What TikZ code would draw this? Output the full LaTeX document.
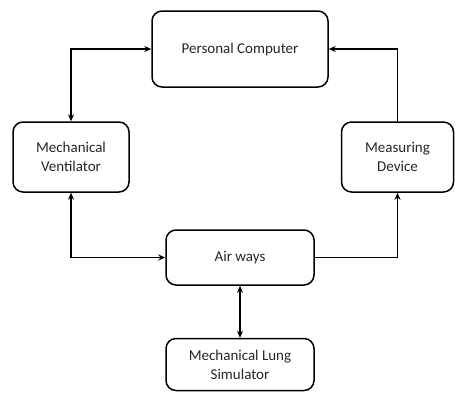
\documentclass[tikz,border=0pt]{standalone}
\usepackage{fontspec}
\setmainfont{Carlito}
\usetikzlibrary{arrows.meta}
\begin{document}
\begin{tikzpicture}[x=1pt,y=-1pt,
  box/.style={draw, line width=1.5pt, rounded corners=10pt, align=center, inner sep=0pt, font=\fontsize{15}{19}\selectfont, text=black!85},
  conn/.style={line width=1.6pt, -{Stealth[length=7pt,width=6pt]}},
  bconn/.style={line width=1.6pt, {Stealth[length=7pt,width=6pt]}-{Stealth[length=7pt,width=6pt]}}]
\useasboundingbox (0,0) rectangle (455,392);
\node[box, minimum width=176pt, minimum height=76pt] (pc) at (240,49) {Personal Computer};
\node[box, minimum width=116pt, minimum height=70pt] (mv) at (71,157) {Mechanical\\Ventilator};
\node[box, minimum width=112pt, minimum height=70pt] (md) at (397.5,157) {Measuring\\Device};
\node[box, minimum width=148pt, minimum height=55pt] (aw) at (240,257.5) {Air ways};
\node[box, minimum width=148pt, minimum height=52pt] (ml) at (240,364.5) {Mechanical Lung\\Simulator};
\draw[bconn] (pc.west) -| (mv.north);
\draw[bconn] (mv.south) |- (aw.west);
\draw[conn] (aw.east) -| (md.south);
\draw[conn] (md.north) |- (pc.east);
\draw[bconn] (aw.south) -- (ml.north);
\end{tikzpicture}
\end{document}
